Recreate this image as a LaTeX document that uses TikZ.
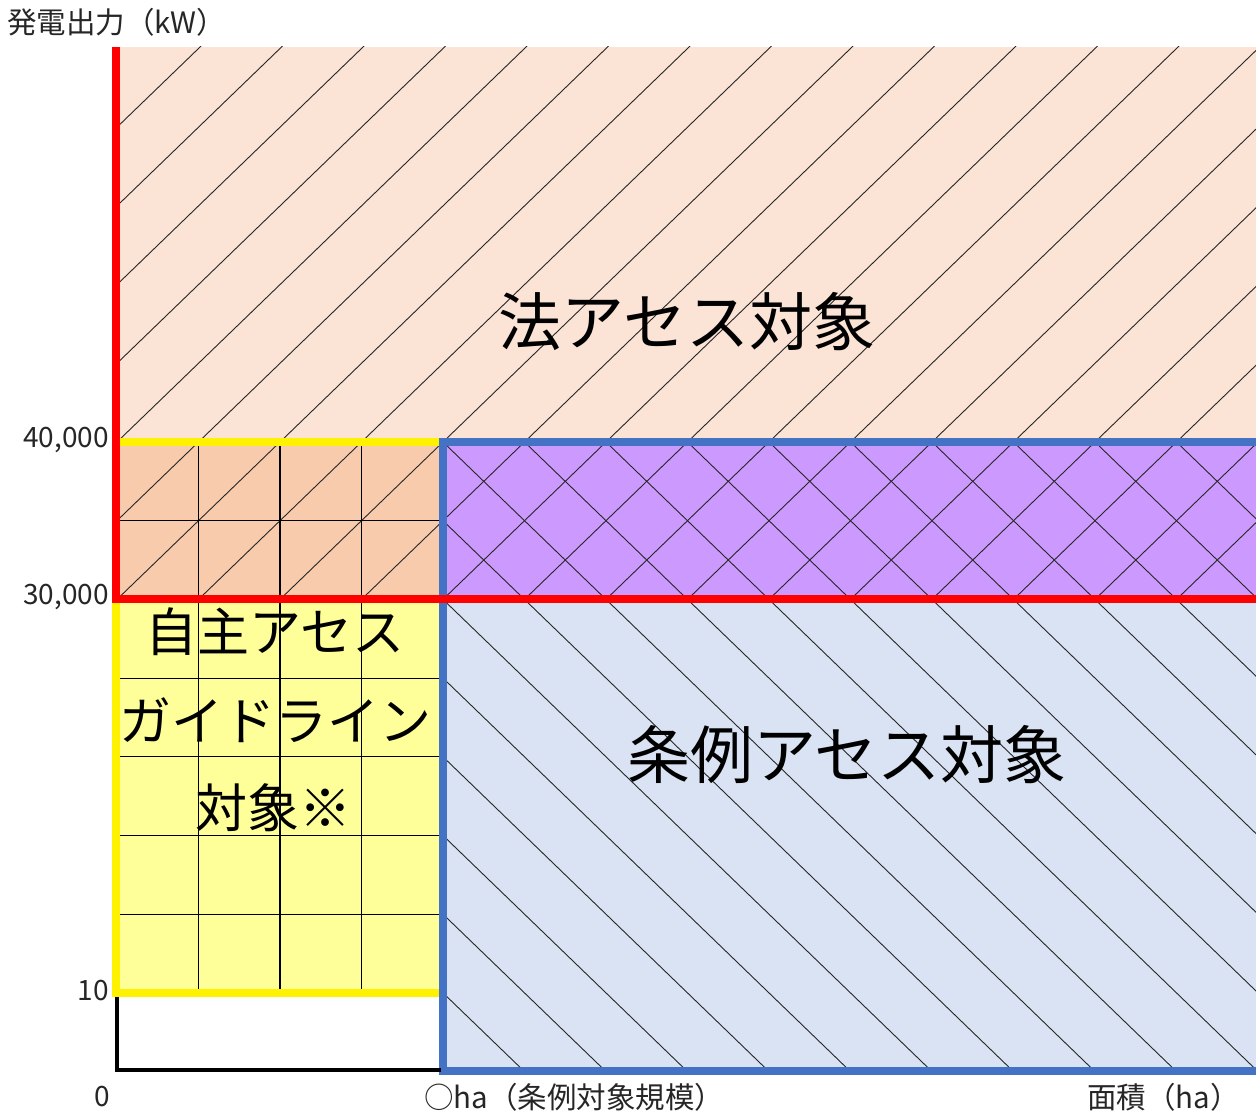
\documentclass[tikz,border=0pt]{standalone}
\usepackage{fontspec}
\setmainfont{Noto Sans CJK JP}
\definecolor{peach}{HTML}{FBE3D5}
\definecolor{orng}{HTML}{F8CBAD}
\definecolor{purp}{HTML}{CC99FF}
\definecolor{yel}{HTML}{FFFF99}
\definecolor{bluel}{HTML}{DAE3F3}
\definecolor{blueline}{HTML}{4472C4}
\tikzset{
  hatchline/.style={draw=black!85, line width=0.9pt},
  gridline/.style={draw=black, line width=1.2pt},
  yelborder/.style={draw=yellow, line width=7.5pt},
  blueborder/.style={draw=blueline, line width=7.5pt},
  redborder/.style={draw=red, line width=7.5pt},
  axisline/.style={draw=black, line width=4pt},
  axlabel/.style={font=\fontsize{29.5}{32}\selectfont, text=black!85, inner sep=0pt},
  numlabel/.style={font=\fontsize{28}{30}\selectfont, text=black!85, inner sep=0pt},
  bigtext/.style={font=\fontsize{63}{66}\selectfont, inner sep=0pt},
  midtext/.style={font=\fontsize{52}{55}\selectfont, inner sep=0pt}
}
\begin{document}
\begin{tikzpicture}[x=1pt,y=-1pt]
\useasboundingbox (0,0) rectangle (1256,1113);
\def\dx{81.5}
\def\dy{78.7}
\begin{scope}
\clip (0,0) rectangle (1256,1113);
% fills
\fill[peach] (116,47) rectangle (1260,442);
\fill[orng] (116,442) rectangle (443,599);
\fill[purp] (443,442) rectangle (1260,599);
\fill[yel] (116,599) rectangle (443,993);
\fill[bluel] (443,599) rectangle (1260,1071);
% '/' hatching
\begin{scope}
\clip (116,47) rectangle (1256,599);
\foreach \k in {-4,...,16}
  \draw[hatchline] ({117+\dx*\k-\dx*8},{442+\dy*8}) -- ({117+\dx*\k+\dx*8},{442-\dy*8});
\end{scope}
% '\' hatching
\begin{scope}
\clip (443,442) rectangle (1256,1071);
\foreach \k in {-6,...,16}
  \draw[hatchline] ({117+\dx*\k-\dx*8},{442-\dy*8}) -- ({117+\dx*\k+\dx*8},{442+\dy*8});
\end{scope}
% grid
\foreach \i in {1,2,3}
  \draw[gridline] ({117+\dx*\i},442) -- ({117+\dx*\i},993);
\foreach \j in {1,...,6}
  \draw[gridline] (117,{442+\dy*\j}) -- (443,{442+\dy*\j});
% borders
\draw[yelborder] (116,442) rectangle (443,993);
\draw[blueborder] (443,442) rectangle (1275,1071);
\draw[redborder] (116,47) -- (116,599) -- (1275,599);
\draw[axisline] (117,997) -- (117,1070) -- (441,1070);
\end{scope}
% labels
\node[axlabel, anchor=west] (ylab) at (7,22) {発電出力（kW）};
\node[numlabel, anchor=east] (y40) at (109,440) {40,000};
\node[numlabel, anchor=east] (y30) at (109,597) {30,000};
\node[numlabel, anchor=east] (y10) at (109,991) {10};
\node[numlabel] (x0) at (102,1097) {0};
\node[axlabel, anchor=west] (xha) at (424,1097) {○ha（条例対象規模）};
\node[axlabel, anchor=east] (xlab) at (1240,1097) {面積（ha）};
\node[bigtext] (law) at (687,322) {法アセス対象};
\node[bigtext] (ord) at (847,755) {条例アセス対象};
\node[midtext] (g1) at (275,632) {自主アセス};
\node[midtext] (g2) at (275,720) {ガイドライン};
\node[midtext] (g3) at (273,808) {対象※};
\end{tikzpicture}
\end{document}
